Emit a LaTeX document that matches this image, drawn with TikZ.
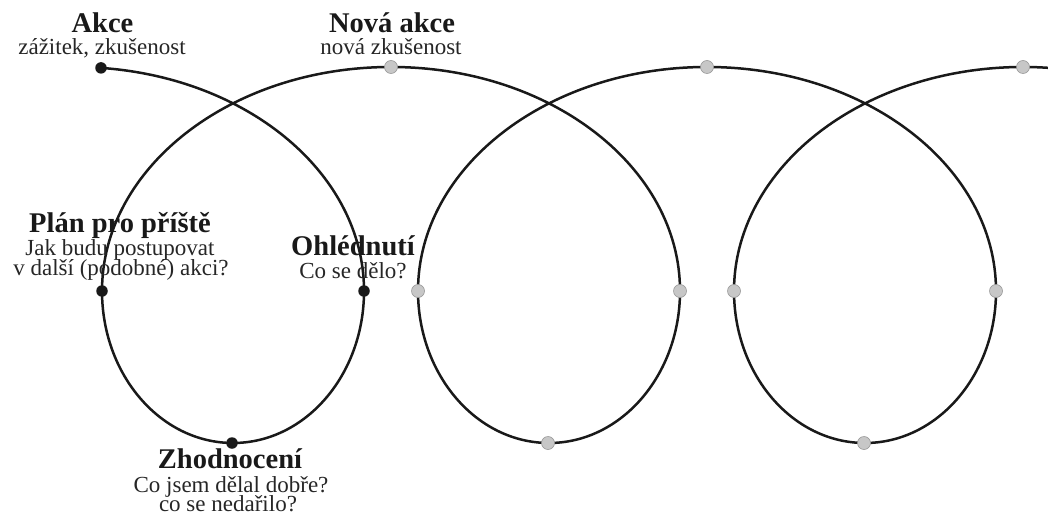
\documentclass[tikz,border=0pt]{standalone}
\usepackage{fontspec}
\setmainfont{Liberation Serif}
\begin{document}
\begin{tikzpicture}[x=1pt,y=1pt,
  curve/.style={line width=2.5pt, draw=black!90},
  keydot/.style={circle, fill=black!90, inner sep=0pt, minimum size=11.5pt},
  greydot/.style={circle, fill=black!22, draw=black!40, line width=0.6pt, inner sep=0pt, minimum size=13pt},
  head/.style={font=\fontsize{28.5}{30}\selectfont\bfseries, anchor=base, inner sep=0pt, text=black!90},
  sub/.style={font=\fontsize{23}{25}\selectfont, anchor=base, inner sep=0pt, text=black!85}]
\useasboundingbox (0,0) rectangle (1048,515);
\begin{scope}
\clip (0,0) rectangle (1048,515);
\draw[curve] (101,447.1)
  arc[start angle=84.84, end angle=0, x radius=289pt, y radius=224pt]
  arc[start angle=0, end angle=-180, x radius=131pt, y radius=152pt]
  arc[start angle=180, end angle=0, x radius=289pt, y radius=224pt]
  arc[start angle=0, end angle=-180, x radius=131pt, y radius=152pt]
  arc[start angle=180, end angle=0, x radius=289pt, y radius=224pt]
  arc[start angle=0, end angle=-180, x radius=131pt, y radius=152pt]
  arc[start angle=180, end angle=70, x radius=289pt, y radius=224pt];
\end{scope}
% key points of the first cycle
\node[keydot] (akce) at (101,447.1) {};
\node[keydot] (ohled) at (364,224) {};
\node[keydot] (zhod) at (232,72) {};
\node[keydot] (plan) at (102,224) {};
% grey points of the following cycles
\node[greydot] (top1) at (391,448) {};
\node[greydot] (top2) at (707,448) {};
\node[greydot] (top3) at (1023,448) {};
\node[greydot] (l2) at (418,224) {};
\node[greydot] (r2) at (680,224) {};
\node[greydot] (l3) at (734,224) {};
\node[greydot] (r3) at (996,224) {};
\node[greydot] (b2) at (548,72) {};
\node[greydot] (b3) at (864,72) {};
% labels
\node[head] (tAkce) at (102.5,482) {Akce};
\node[sub] (sAkce) at (102,460) {zážitek, zkušenost};
\node[head] (tNova) at (392,482) {Nová akce};
\node[sub] (sNova) at (391,460) {nová zkušenost};
\node[head] (tPlan) at (120,283) {Plán pro příště};
\node[sub] (sPlan1) at (120,260) {Jak budu postupovat};
\node[sub] (sPlan2) at (121,240) {v další (podobné) akci?};
\node[head] (tOhl) at (353,260) {Ohlédnutí};
\node[sub] (sOhl) at (353,237) {Co se dělo?};
\node[head] (tZhod) at (230,47) {Zhodnocení};
\node[sub] (sZhod1) at (231,23) {Co jsem dělal dobře?};
\node[sub] (sZhod2) at (228,4) {co se nedařilo?};
\end{tikzpicture}
\end{document}
